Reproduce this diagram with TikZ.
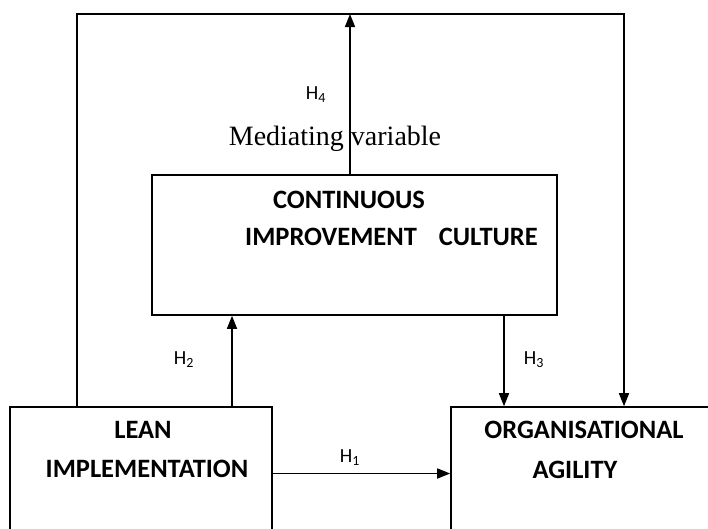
\documentclass[tikz,border=0pt]{standalone}
\usepackage{fontspec}
\setmainfont{Liberation Serif}
\newfontfamily\calibri{Carlito}
\usetikzlibrary{arrows.meta,positioning}
\tikzset{
	box/.style={draw, line width=1.6pt, rectangle, inner sep=0pt},
	conn/.style={line width=1.6pt},
	arr/.style={conn, -{Triangle[length=13pt,width=10pt]}},
	hyp/.style={font=\calibri\fontsize{20}{22}\selectfont, inner sep=0pt, anchor=base},
	title/.style={font=\calibri\bfseries\fontsize{26.5}{30}\selectfont, inner sep=0pt, anchor=base},
}
\begin{document}
\begin{tikzpicture}[x=1pt, y=-1pt]
		\useasboundingbox (0,0) rectangle (708,528);
		\clip (0,0) rectangle (708,528);
		% the three constructs
		\node[box, minimum width=405pt, minimum height=140pt] (cic) at (354.5,245) {};
		\node[box, minimum width=262pt, minimum height=133pt] (lean) at (141,473.5) {};
		\node[box, minimum width=269pt, minimum height=133pt] (agil) at (585.5,473.5) {};
		\coordinate (tl) at (77,14);
		\coordinate (tr) at (624,14);
		\coordinate (m) at (350,14);
		\coordinate (h2x) at (232,0);
		\coordinate (h3x) at (504,0);
		% connectors
		\draw[arr] (lean.north -| tl) -- (tl) -- (tr) -- (agil.north -| tr);
		\draw[arr] (cic.north -| m) -- (m);
		\draw[arr] (lean.north -| h2x) -- (cic.south -| h2x);
		\draw[arr] (cic.south -| h3x) -- (agil.north -| h3x);
		\draw[arr] (lean) -- (agil);
		% texts
		\node[title] (cic1) at (349,208) {CONTINUOUS};
		\node[title, anchor=base west] (cic2) at (245,245) {IMPROVEMENT\hspace{22pt}CULTURE};
		\node[title] (lean1) at (143,438) {LEAN};
		\node[title] (lean2) at (147,477) {IMPLEMENTATION};
		\node[title] (agil1) at (584,438) {ORGANISATIONAL};
		\node[title] (agil2) at (575,478) {AGILITY};
		\node[font=\fontsize{28}{32}\selectfont, inner sep=0pt, anchor=base] (med) at (335,145) {Mediating variable};
		\node[hyp] (hA) at (350,462) {H\textsubscript{1}};
		\node[hyp] (hB) at (184,364) {H\textsubscript{2}};
		\node[hyp] (hC) at (534,364) {H\textsubscript{3}};
		\node[hyp] (hD) at (316,99) {H\textsubscript{4}};
	\end{tikzpicture}
\end{document}
